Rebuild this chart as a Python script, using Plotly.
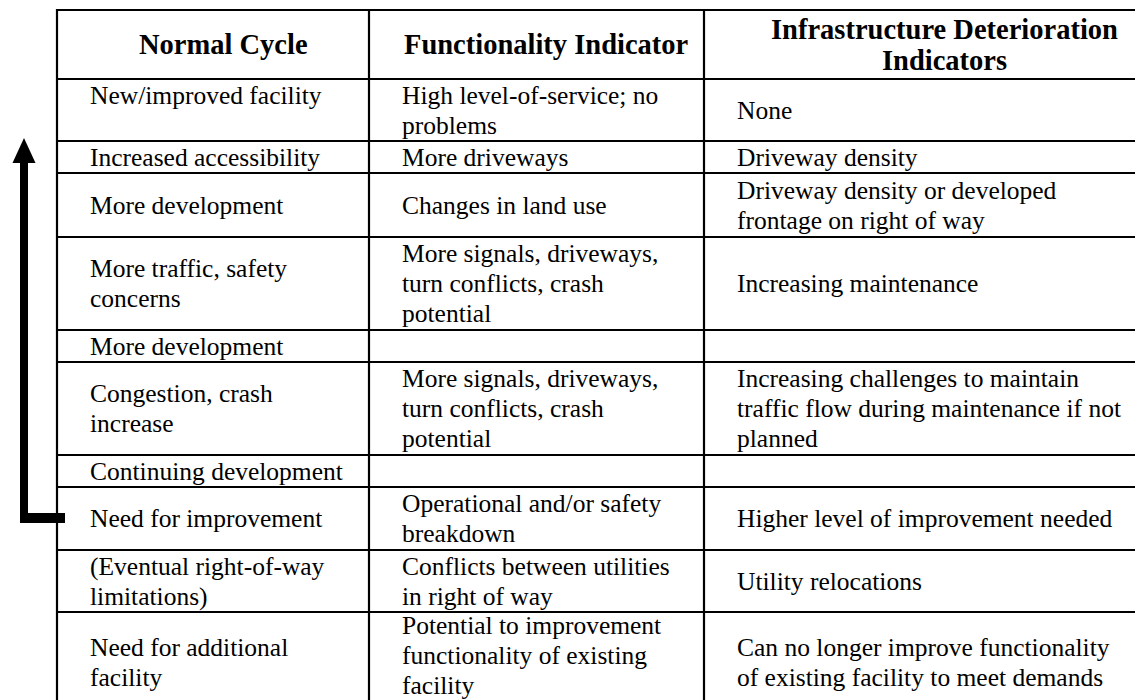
import plotly.graph_objects as go

# ---------------- data ----------------
headers = ["Normal Cycle", "Functionality Indicator", "Infrastructure Deterioration\nIndicators"]

normal_cycle = [
    "New/improved facility",
    "Increased accessibility",
    "More development",
    "More traffic, safety\nconcerns",
    "More development",
    "Congestion, crash\nincrease",
    "Continuing development",
    "Need for improvement",
    "(Eventual right-of-way\nlimitations)",
    "Need for additional\nfacility",
]

functionality_indicator = [
    "High level-of-service; no\nproblems",
    "More driveways",
    "Changes in land use",
    "More signals, driveways,\nturn conflicts, crash\npotential",
    "",
    "More signals, driveways,\nturn conflicts, crash\npotential",
    "",
    "Operational and/or safety\nbreakdown",
    "Conflicts between utilities\nin right of way",
    "Potential to improvement\nfunctionality of existing\nfacility",
]

deterioration_indicators = [
    "None",
    "Driveway density",
    "Driveway density or developed\nfrontage on right of way",
    "Increasing maintenance",
    "",
    "Increasing challenges to maintain\ntraffic flow during maintenance if not\nplanned",
    "",
    "Higher level of improvement needed",
    "Utility relocations",
    "Can no longer improve functionality\nof existing facility to meet demands",
]

columns = [normal_cycle, functionality_indicator, deterioration_indicators]

# ---------------- layout (pixels of the page) ----------------
W, H = 1143, 700
PAGE_MARGIN = 8           # default body margin of the html page
col_edges = [57, 369, 704, 1165]
text_pad = 31
table_top = 10
header_h = 69
row_heights = [62, 32, 64, 93, 32, 93, 32, 63, 62, 100]
body_font = 25.5
head_font = 28.5
line_h = 30.0
head_line_h = 31.0
FONT = "Liberation Serif"

row_edges = [table_top, table_top + header_h]
for h in row_heights:
    row_edges.append(row_edges[-1] + h)

fig = go.Figure()
shapes = []
annotations = []

# grid lines
for y in row_edges:
    shapes.append(dict(type="line", xref="x", yref="y", x0=col_edges[0] - 1, x1=col_edges[-1],
                       y0=y, y1=y, line=dict(color="black", width=2.2)))
for x in col_edges:
    shapes.append(dict(type="line", xref="x", yref="y", x0=x, x1=x,
                       y0=table_top - 1, y1=row_edges[-1], line=dict(color="black", width=2.2)))

# header text
for c, htxt in enumerate(headers):
    lines = htxt.split("\n")
    cx = (col_edges[c] + col_edges[c + 1]) / 2 + 10
    mid = (row_edges[0] + row_edges[1]) / 2
    n = len(lines)
    for i, ln in enumerate(lines):
        yy = mid + (i - (n - 1) / 2) * head_line_h
        annotations.append(dict(x=cx, y=yy, xref="x", yref="y", text="<b>" + ln + "</b>",
                                showarrow=False, xanchor="center", yanchor="middle",
                                font=dict(family=FONT, size=head_font, color="black")))

# body text
for c, col in enumerate(columns):
    x_txt = col_edges[c] + text_pad
    for r, cell in enumerate(col):
        if not cell:
            continue
        lines = cell.split("\n")
        n = len(lines)
        top, bot = row_edges[r + 1], row_edges[r + 2]
        if r == 0 and c == 0:
            first = top + line_h / 2 + 1
            ys = [first + i * line_h for i in range(n)]
        elif r == len(col) - 1 and n == 3:
            first = top + line_h / 2 - 1.5
            ys = [first + i * line_h for i in range(n)]
        else:
            mid = (top + bot) / 2
            ys = [mid + (i - (n - 1) / 2) * line_h for i in range(n)]
        for ln, yy in zip(lines, ys):
            annotations.append(dict(x=x_txt, y=yy, xref="x", yref="y", text=ln,
                                    showarrow=False, xanchor="left", yanchor="middle",
                                    font=dict(family=FONT, size=body_font, color="black")))

# cycle arrow (decoration)
shaft_x0, shaft_x1 = 20, 28
shapes.append(dict(type="rect", xref="x", yref="y", x0=shaft_x0, x1=shaft_x1, y0=160, y1=523,
                   fillcolor="black", line=dict(width=0)))
shapes.append(dict(type="rect", xref="x", yref="y", x0=shaft_x0, x1=65, y0=513, y1=523,
                   fillcolor="black", line=dict(width=0)))
shapes.append(dict(type="path", xref="x", yref="y", path="M 24 138 L 12.5 163 L 35.5 163 Z",
                   fillcolor="black", line=dict(width=0)))

fig.update_layout(
    width=W - PAGE_MARGIN, height=H - PAGE_MARGIN,
    margin=dict(l=0, r=0, t=0, b=0),
    paper_bgcolor="white", plot_bgcolor="white",
    xaxis=dict(range=[PAGE_MARGIN, W], visible=False, fixedrange=True),
    yaxis=dict(range=[H, PAGE_MARGIN], visible=False, fixedrange=True),
    shapes=shapes, annotations=annotations, showlegend=False,
)

fig.write_html("out.html")
